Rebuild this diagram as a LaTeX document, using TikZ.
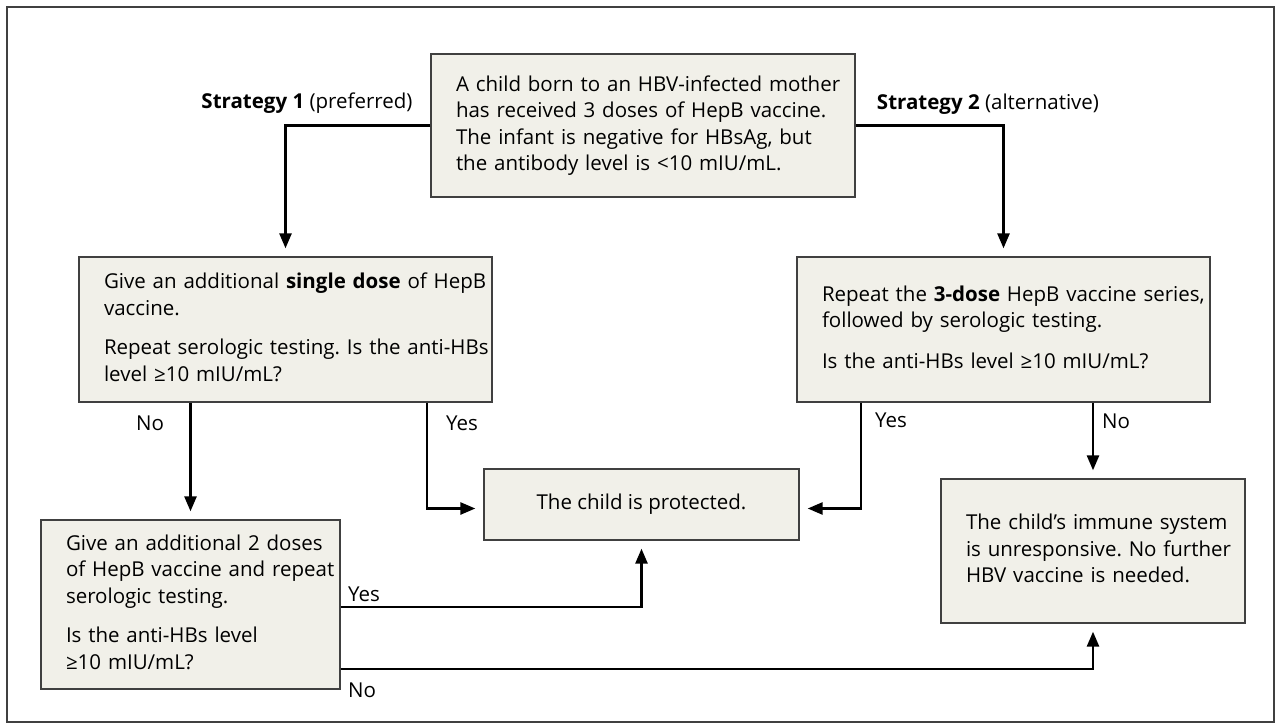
\documentclass[tikz,border=0pt]{standalone}
\usepackage{fontspec}
\setmainfont{Open Sans}
\usetikzlibrary{arrows.meta,calc}
\definecolor{boxfill}{RGB}{241,240,233}
\definecolor{boxline}{RGB}{64,64,64}
\newcommand{\boxlines}[1]{\begin{tabular}{@{}l@{}}#1\end{tabular}}
\frenchspacing
\begin{document}
\begin{tikzpicture}[x=1pt,y=-1pt,
  box/.style={draw=boxline,line width=1.3pt,fill=boxfill,inner sep=0pt,align=left,font=\fontsize{20.5}{26.5}\selectfont},
  conn/.style={line width=2.6pt,-{Triangle[length=15pt,width=12pt]},shorten >=8pt},
  lab/.style={font=\fontsize{20.5}{26.5}\selectfont,inner sep=0pt}]
\useasboundingbox (0,0) rectangle (1280,727);
\draw[boxline,line width=1.2pt] (7,7) rectangle (1274,722);

\node[box,minimum width=424pt,minimum height=143pt,text width=374pt] (top) at (643,125.5)
  {\boxlines{A child born to an HBV-infected mother\\ has received 3 doses of HepB vaccine.\\ The infant is negative for HBsAg, but\\ the antibody level is <10 mIU/mL.}};
\node[box,minimum width=413pt,minimum height=145pt,text width=363pt] (s1) at (285.5,329.5)
  {\boxlines{Give an additional \textbf{single dose} of HepB\\ vaccine.\\[13pt] Repeat serologic testing. Is the anti-HBs\\ level ≥10 mIU/mL?}};
\node[box,minimum width=413pt,minimum height=145pt,text width=363pt] (s2) at (1003.5,329.5)
  {\boxlines{Repeat the \textbf{3-dose} HepB vaccine series,\\ followed by serologic testing.\\[14pt] Is the anti-HBs level ≥10 mIU/mL?}};
\node[box,align=center,minimum width=315pt,minimum height=71pt] (prot) at (641.5,504.5)
  {The child is protected.};
\node[box,minimum width=299pt,minimum height=169pt,text width=249pt] (bl) at (190.5,604.5)
  {\boxlines{Give an additional 2 doses\\ of HepB vaccine and repeat\\ serologic testing.\\[13pt] Is the anti-HBs level\\ ≥10 mIU/mL?}};
\node[box,minimum width=304pt,minimum height=144pt,text width=254pt] (unr) at (1093,551)
  {\boxlines{The child’s immune system\\ is unresponsive. No further\\ HBV vaccine is needed.}};

\node[lab] (st1) at (307,103) {\textbf{Strategy 1} (preferred)};
\node[lab] (st2) at (988,104) {\textbf{Strategy 2} (alternative)};
\node[lab] (no1) at (150,423) {No};
\node[lab] (yes1) at (462,423) {Yes};
\node[lab] (yes2) at (891,420) {Yes};
\node[lab] (no2) at (1116,421) {No};
\node[lab] (yes3) at (364,594) {Yes};
\node[lab] (no3) at (362,690) {No};

\draw[conn] (top.west) -| (s1.north);
\draw[conn] (top.east) -| (s2.north);
\draw[conn] (s1.south -| bl.north) -- (bl.north);
\draw[conn] ([xshift=141.5pt]s1.south) |- ([yshift=-4pt]prot.west);
\draw[conn] ([xshift=-142.5pt]s2.south) |- ([yshift=-4pt]prot.east);
\draw[conn] (s2.south -| unr.north) -- (unr.north);
\draw[conn] ([yshift=-2.5pt]bl.east) -| (prot.south);
\draw[conn] ([yshift=-64.5pt]bl.east) -| (unr.south);
\end{tikzpicture}
\end{document}
